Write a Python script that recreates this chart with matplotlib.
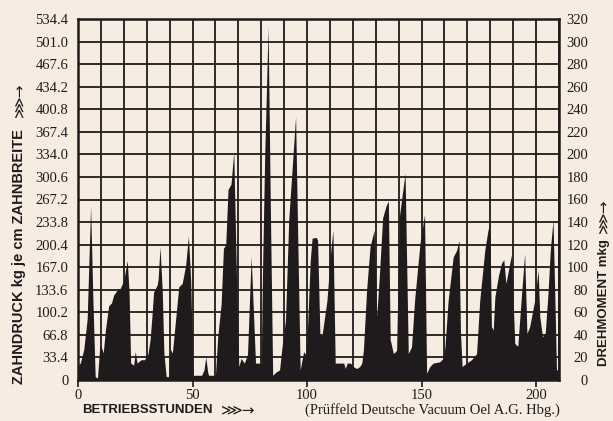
import matplotlib.pyplot as plt
import numpy as np

# Betriebsstunden / Zahndruck (kg je cm Zahnbreite)
stunden = [0, 1, 2.5, 4, 5.5, 6.5, 7.5, 8.5, 9.5, 10.3, 11, 12, 13.4, 14.6, 15.6,
           17.1, 18.5, 20, 21.5, 22.3, 23, 24.3, 25, 25.8, 27.5, 29, 30.5, 31.5,
           32.4, 33, 34.6, 35, 35.8, 36.8, 37.5, 38.5, 39.5, 40.4, 41.2, 42.6, 44,
           45.5, 47, 48.2, 49.2, 50.2, 54, 55, 55.8, 56.6, 57, 60, 61, 62.5, 63.5,
           64.5, 65.5, 66.8, 68, 69, 70.2, 71.2, 72.6, 74, 75.6, 77.5, 78.5, 80,
           80.5, 81.5, 83, 84, 85, 86.5, 88, 89, 90.6, 92, 95, 96, 97, 98.5, 99.3,
           100, 101.4, 102.2, 104, 104.6, 105.6, 106.5, 108.7, 110.1, 111.3, 112.3,
           114, 116, 116.7, 117.5, 119, 120, 121.7, 123, 123.9, 124.6, 126, 127.5,
           128.7, 129.3, 130.4, 131.5, 133, 134.5, 135.5, 136.3, 137.7, 139.1,
           140.3, 142.8, 144.2, 145.6, 147, 149.3, 151.3, 152.2, 153.6, 155, 158,
           159.4, 160.2, 161.6, 163.8, 165.3, 166.3, 167, 167.7, 169.6, 171.8, 174,
           175.4, 177.6, 179, 179.8, 180.5, 181.3, 182, 183.6, 184.9, 185.9, 186.8,
           187.8, 189.2, 190.7, 192, 193.5, 195, 196, 197.2, 199.4, 200.9, 201.6,
           202.8, 204, 205.2, 206.2, 207.4, 208.2, 208.9, 209.5]
zahndruck = [22, 25, 45, 90, 257, 120, 5, 3, 50, 48, 40, 75, 110, 114, 126,
             133, 136, 148, 177, 130, 25, 22, 42, 25, 30, 30, 38, 60,
             100, 130, 141, 150, 197, 130, 40, 5, 5, 45, 40, 89, 138,
             143, 170, 213, 148, 7, 7, 15, 34, 12, 7, 7, 64, 113, 195,
             200, 282, 290, 338, 180, 20, 32, 25, 38, 183, 25, 25, 25,
             150, 330, 523, 250, 7, 12, 15, 47, 89, 237, 390, 200, 15, 42, 38,
             60, 177, 210, 211, 207, 69, 65, 118, 182, 222, 25,
             25, 25, 17, 25, 25, 20, 17, 20, 25, 44, 133, 197,
             214, 222, 94, 150, 240, 258, 265, 60, 39, 44,
             242, 306, 39, 49, 120, 202, 245, 10, 20, 25, 27,
             32, 49, 118, 182, 192, 207, 69, 20, 25, 30, 39,
             118, 192, 222, 232, 79, 74, 123, 155, 173, 178, 143,
             160, 185, 54, 50, 120, 187, 69, 79, 118, 163, 94,
             64, 70, 128, 192, 237, 120, 15, 15]

links_ticks = [0, 33.4, 66.8, 100.2, 133.6, 167.0, 200.4, 233.8, 267.2, 300.6,
               334.0, 367.4, 400.8, 434.2, 467.6, 501.0, 534.4]
rechts_ticks = list(range(0, 321, 20))
x_ticks = [0, 50, 100, 150, 200]

papier = '#f7ece2'
tinte = '#1f1b1c'

fig = plt.figure(figsize=(6.13, 4.21), dpi=100, facecolor=papier)
ax = fig.add_axes([78 / 613, 41 / 421, 481 / 613, 361 / 421], facecolor=papier)

ax.fill_between(stunden, zahndruck, 0, color=tinte, lw=0, zorder=2)

ax.set_xlim(0, 210)
ax.set_ylim(0, 534.4)
ax.set_xticks(x_ticks)
ax.set_xticks(np.arange(0, 211, 10), minor=True)
ax.set_yticks(links_ticks)
ax.set_yticklabels(['%.1f' % v if v else '0' for v in links_ticks])
ax.grid(which='both', color=tinte, lw=1.3, zorder=1)
ax.set_axisbelow(True)

serif = 'Liberation Serif'
ax.tick_params(axis='y', length=0, pad=7, labelsize=10.5, labelcolor=tinte)
ax.tick_params(axis='x', which='major', length=5, width=1.2, color=tinte,
               pad=1.5, labelsize=10.5, labelcolor=tinte)
ax.tick_params(axis='x', which='minor', length=0)
for lbl in ax.get_xticklabels() + ax.get_yticklabels():
    lbl.set_fontfamily(serif)
for s in ax.spines.values():
    s.set_linewidth(1.8)
    s.set_color(tinte)

ax2 = ax.twinx()
ax2.set_ylim(0, 320)
ax2.set_yticks(rechts_ticks)
ax2.tick_params(axis='y', length=0, pad=21, labelsize=10.5, labelcolor=tinte)
for lbl in ax2.get_yticklabels():
    lbl.set_fontfamily(serif)
    lbl.set_horizontalalignment('right')
ax2.spines[:].set_visible(False)

sans = ['Liberation Sans', 'DejaVu Sans']
pfeil = '\u22d9\u2192'
fig.text(19 / 613, 1 - 384 / 421, 'ZAHNDRUCK kg je cm ZAHNBREITE',
         rotation=90, ha='center', va='bottom', fontsize=10.5,
         fontweight='bold', family=sans, color=tinte)
fig.text(19 / 613, 1 - 100 / 421, pfeil, rotation=90, ha='center', va='center',
         fontsize=11, family='DejaVu Sans', color=tinte)
fig.text(604 / 613, 1 - 366 / 421, 'DREHMOMENT mkg',
         rotation=90, ha='center', va='bottom', fontsize=9.5,
         fontweight='bold', family=sans, color=tinte)
fig.text(603 / 613, 1 - 216 / 421, pfeil, rotation=90, ha='center', va='center',
         fontsize=11, family='DejaVu Sans', color=tinte)
fig.text(82 / 613, 1 - 410 / 421, 'BETRIEBSSTUNDEN',
         ha='left', va='center', fontsize=9.5, fontweight='bold',
         family=sans, color=tinte)
fig.text(238 / 613, 1 - 410 / 421, pfeil, ha='center', va='center',
         fontsize=11, family='DejaVu Sans', color=tinte)
fig.text(560 / 613, 1 - 410 / 421, '(Prüffeld Deutsche Vacuum Oel A.G. Hbg.)',
         ha='right', va='center', fontsize=10.5, family=serif, color=tinte)

fig.savefig('out.png', dpi=100, facecolor=papier)
